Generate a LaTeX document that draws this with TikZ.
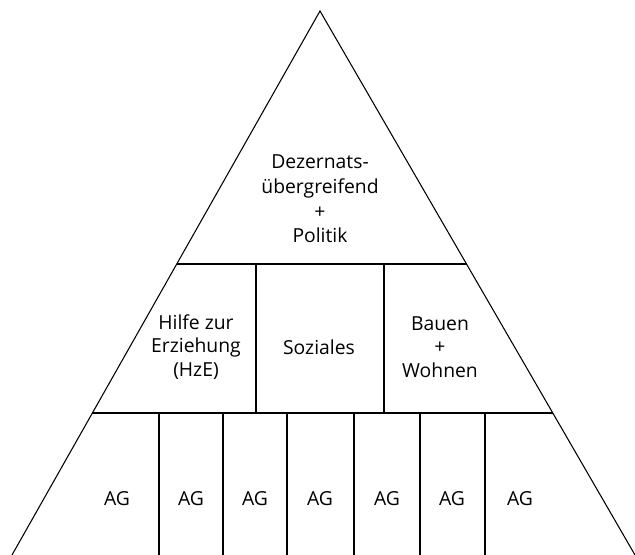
\documentclass[tikz,border=0pt]{standalone}
\usepackage{fontspec}
\setmainfont{Open Sans}
\usepackage{tikz}
\usetikzlibrary{calc}

\begin{document}
\begin{tikzpicture}[x=0.75pt,y=-0.75pt,line width=0.8pt,
  feld/.style={align=center,font=\fontsize{14.5pt}{17.5pt}\selectfont},
  spitze/.style={align=center,font=\fontsize{14.5pt}{18.5pt}\selectfont}]
\useasboundingbox (0,0) rectangle (635,555);
\coordinate (top) at (320,11);
\coordinate (bl) at (12,555);
\coordinate (br) at (635,555);
\draw (bl) -- (top) -- (br);
\coordinate (m1) at ($(top)!0.4651!(bl)$);  % y = 264
\coordinate (m2) at ($(top)!0.4651!(br)$);
\coordinate (u1) at ($(top)!0.739!(bl)$);  % y = 413
\coordinate (u2) at ($(top)!0.739!(br)$);
\draw (m1) -- (m2);
\draw (u1) -- (u2);
\draw (256,264) -- (256,413);
\draw (384,264) -- (384,413);
\foreach \x in {159,223,287,354,420,485}
  \draw (\x,413) -- (\x,555);
\node[spitze] (politik) at (320,199) {Dezernats-\\übergreifend\\+\\Politik};
\node[feld] (hze) at (196,347) {Hilfe zur\\Erziehung\\(HzE)};
\node[feld] (soziales) at (319,347) {Soziales};
\node[feld] (bauen) at (440,347) {Bauen\\+\\Wohnen};
\foreach \x [count=\i] in {117,191,255,320,387,452,520}
  \node[feld] (ag\i) at (\x,499) {AG};
\end{tikzpicture}
\end{document}
